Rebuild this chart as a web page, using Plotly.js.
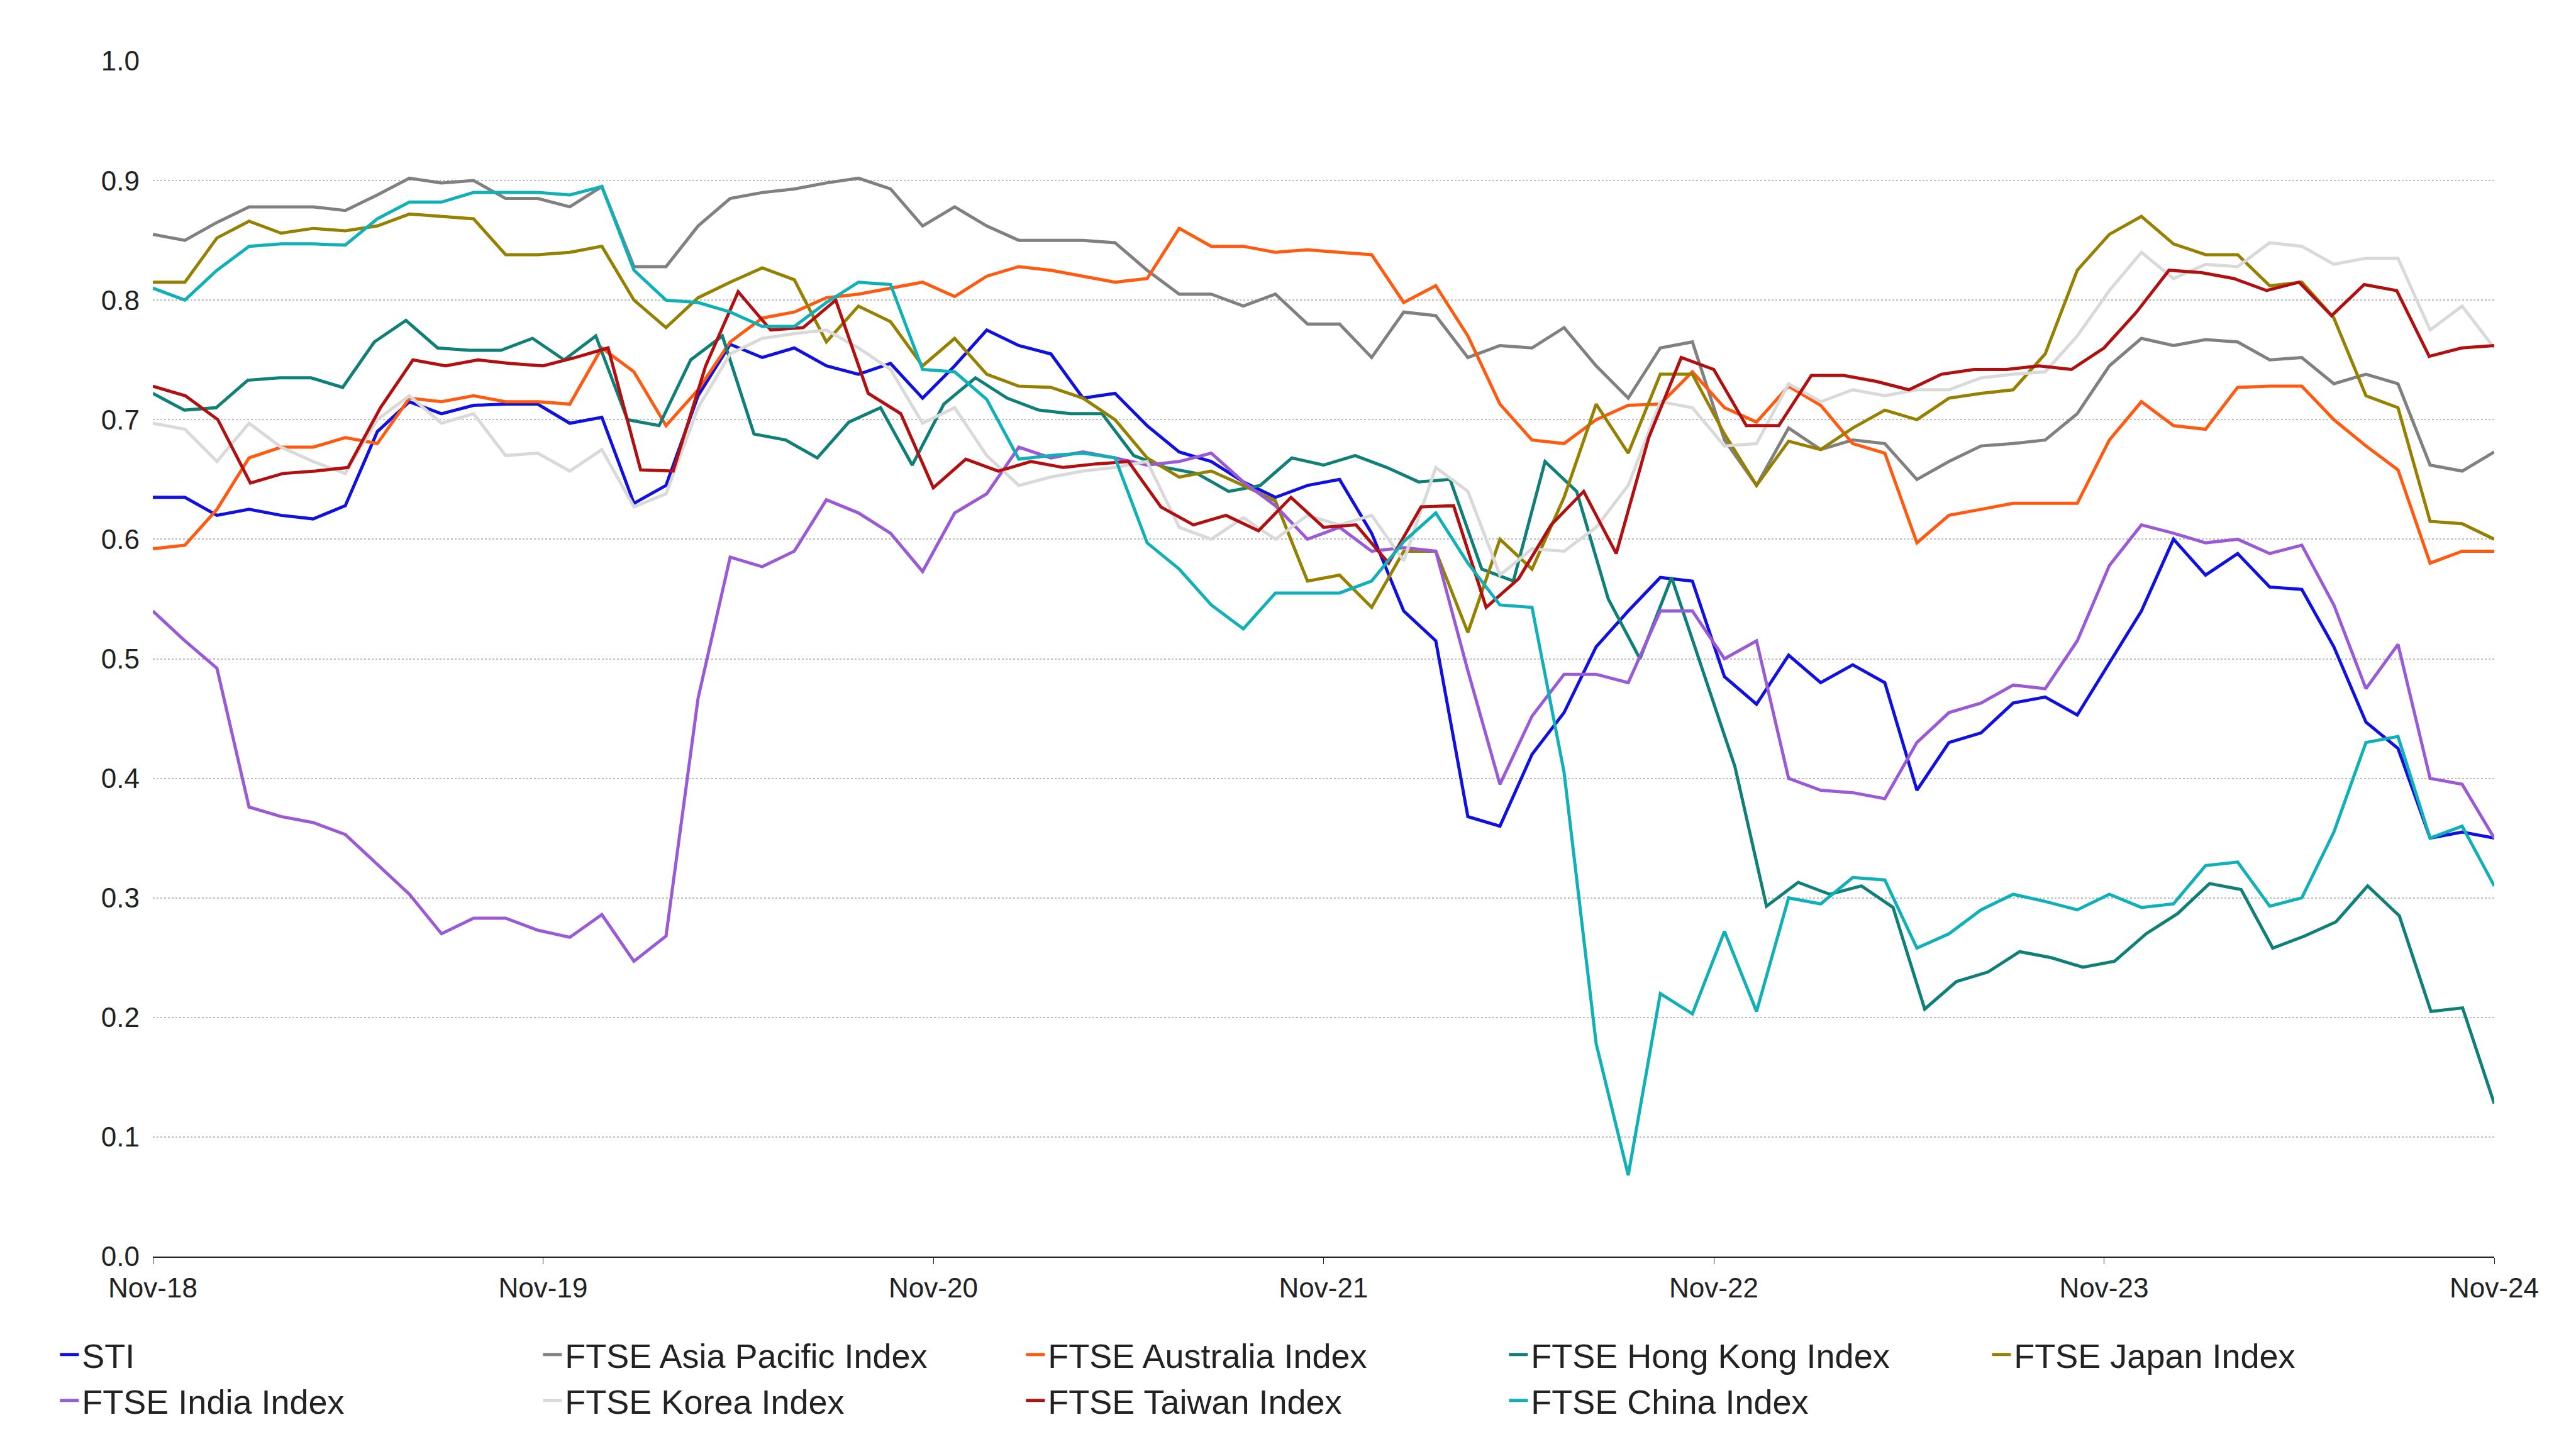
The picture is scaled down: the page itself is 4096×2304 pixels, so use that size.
<!DOCTYPE html>
<html><head><meta charset="utf-8">
<script src="https://cdn.plot.ly/plotly-3.0.1.min.js"></script>
<style>body{margin:0}#c{width:4096px;height:2304px}</style></head>
<body><div id="c"></div><script>
const tickLabels=["Nov-18","Nov-19","Nov-20","Nov-21","Nov-22","Nov-23","Nov-24"];
const names=["STI","FTSE Asia Pacific Index","FTSE Australia Index","FTSE Hong Kong Index","FTSE Japan Index","FTSE India Index","FTSE Korea Index","FTSE Taiwan Index","FTSE China Index"];
const colors=["#1010e0","#808080","#ff5a10","#107f78","#958000","#9a5ad6","#d9d9d9","#b01010","#10b0b8"];
const sti=[.635,.635,.62,.625,.62,.617,.628,.69,.715,.705,.712,.713,.713,.697,.702,.63,.645,.72,.763,.752,.76,.745,.738,.747,.718,.745,.775,.762,.755,.718,.722,.695,.673,.665,.648,.635,.645,.65,.605,.54,.515,.368,.36,.42,.455,.51,.54,.568,.565,.485,.462,.503,.48,.495,.48,.39,.43,.438,.463,.468,.453,.497,.54,.6,.57,.588,.56,.558,.51,.447,.425,.35,.355,.35];
const asiaPac=[.855,.85,.865,.878,.878,.878,.875,.888,.902,.898,.9,.885,.885,.878,.895,.828,.828,.862,.885,.89,.893,.898,.902,.893,.862,.878,.862,.85,.85,.85,.848,.825,.805,.805,.795,.805,.78,.78,.752,.79,.787,.752,.762,.76,.777,.745,.718,.76,.765,.683,.645,.693,.675,.683,.68,.65,.665,.678,.68,.683,.705,.745,.768,.762,.767,.765,.75,.752,.73,.738,.73,.662,.657,.673];
const australia=[.592,.595,.625,.668,.677,.677,.685,.68,.718,.715,.72,.715,.715,.713,.76,.74,.695,.725,.765,.785,.79,.802,.805,.81,.815,.803,.82,.828,.825,.82,.815,.818,.86,.845,.845,.84,.842,.84,.838,.798,.812,.77,.713,.683,.68,.7,.712,.713,.74,.71,.698,.728,.712,.68,.672,.597,.62,.625,.63,.63,.63,.683,.715,.695,.692,.727,.728,.728,.7,.678,.658,.58,.59,.59];
const hongKong=[.722,.708,.71,.733,.735,.735,.727,.765,.783,.76,.758,.758,.768,.75,.77,.7,.695,.75,.77,.688,.683,.668,.698,.71,.662,.713,.735,.718,.708,.705,.705,.67,.66,.655,.64,.645,.668,.662,.67,.66,.648,.65,.575,.565,.665,.64,.55,.5,.568,.49,.41,.293,.313,.303,.31,.292,.207,.23,.238,.255,.25,.242,.247,.27,.287,.312,.307,.258,.268,.28,.31,.285,.205,.208,.128];
const japan=[.815,.815,.852,.866,.856,.86,.858,.862,.872,.87,.868,.838,.838,.84,.845,.8,.777,.802,.815,.827,.817,.765,.795,.782,.745,.768,.738,.728,.727,.718,.7,.668,.652,.657,.645,.632,.565,.57,.543,.59,.59,.522,.6,.575,.635,.713,.672,.738,.738,.688,.645,.682,.675,.693,.708,.7,.718,.722,.725,.755,.825,.855,.87,.847,.838,.838,.812,.815,.785,.72,.71,.615,.613,.6];
const india=[.54,.515,.492,.376,.368,.363,.353,.328,.303,.27,.283,.283,.273,.267,.286,.247,.268,.467,.585,.577,.59,.633,.622,.605,.573,.622,.638,.677,.668,.673,.668,.662,.665,.672,.648,.628,.6,.61,.59,.593,.59,.49,.395,.452,.487,.487,.48,.54,.54,.5,.515,.4,.39,.388,.383,.43,.455,.463,.478,.475,.515,.578,.612,.605,.597,.6,.588,.595,.545,.475,.512,.4,.395,.35];
const korea=[.697,.692,.665,.697,.677,.665,.655,.7,.72,.697,.705,.67,.672,.657,.675,.627,.638,.71,.755,.768,.772,.775,.76,.742,.697,.71,.67,.645,.652,.657,.66,.665,.61,.6,.618,.6,.62,.612,.62,.582,.66,.64,.57,.592,.59,.61,.645,.715,.71,.678,.68,.73,.715,.725,.72,.725,.725,.735,.738,.74,.77,.808,.84,.818,.83,.828,.848,.845,.83,.835,.835,.775,.795,.76];
const taiwan=[.728,.72,.7,.647,.655,.657,.66,.71,.75,.745,.75,.747,.745,.752,.76,.658,.657,.745,.807,.775,.777,.8,.722,.705,.643,.667,.657,.665,.66,.663,.665,.627,.612,.62,.607,.635,.61,.612,.58,.627,.628,.543,.567,.612,.64,.588,.685,.752,.742,.695,.695,.737,.737,.732,.725,.738,.742,.742,.745,.742,.76,.79,.825,.823,.818,.808,.815,.787,.813,.808,.753,.76,.762];
const china=[.81,.8,.825,.845,.847,.847,.846,.868,.882,.882,.89,.89,.89,.888,.895,.825,.8,.798,.79,.778,.778,.798,.815,.813,.742,.74,.717,.667,.67,.672,.668,.597,.575,.545,.525,.555,.555,.555,.565,.598,.622,.58,.545,.543,.405,.178,.068,.22,.203,.272,.205,.3,.295,.317,.315,.258,.27,.29,.303,.297,.29,.303,.292,.295,.327,.33,.293,.3,.355,.43,.435,.35,.36,.31];
const series=[sti,asiaPac,australia,hongKong,japan,india,korea,taiwan,china];
const traces=series.map((s,k)=>({type:'scatter',mode:'lines',name:names[k],
  x:s.map((v,i)=>i*72/(s.length-1)),y:s,line:{color:colors[k],width:5}}));
Plotly.newPlot('c',traces,{
  width:4096,height:2304,paper_bgcolor:'#fff',plot_bgcolor:'#fff',
  font:{family:'"Liberation Sans", Arial, sans-serif',size:44,color:'#222'},
  margin:{l:243,r:130,t:97,b:306},
  xaxis:{range:[0,72],tickvals:[0,12,24,36,48,60,72],ticktext:tickLabels,showgrid:false,zeroline:false,
    showline:true,linecolor:'#222',linewidth:2,ticks:'outside',ticklen:10,tickcolor:'#222',tickfont:{size:44}},
  yaxis:{range:[0,1.0],dtick:0.1,tickformat:'.1f',showgrid:true,gridcolor:'#bbb',griddash:'dot',gridwidth:2,
    zeroline:false,ticks:'',tickfont:{size:44},ticklabelstandoff:20},
  legend:{orientation:'h',x:-0.041,xref:'paper',y:-0.06,yanchor:'top',xanchor:'left',font:{size:54},
    entrywidth:723,entrywidthmode:'pixels',tracegroupgap:0,itemwidth:30},
  showlegend:true
},{displayModeBar:false});
</script></body></html>
